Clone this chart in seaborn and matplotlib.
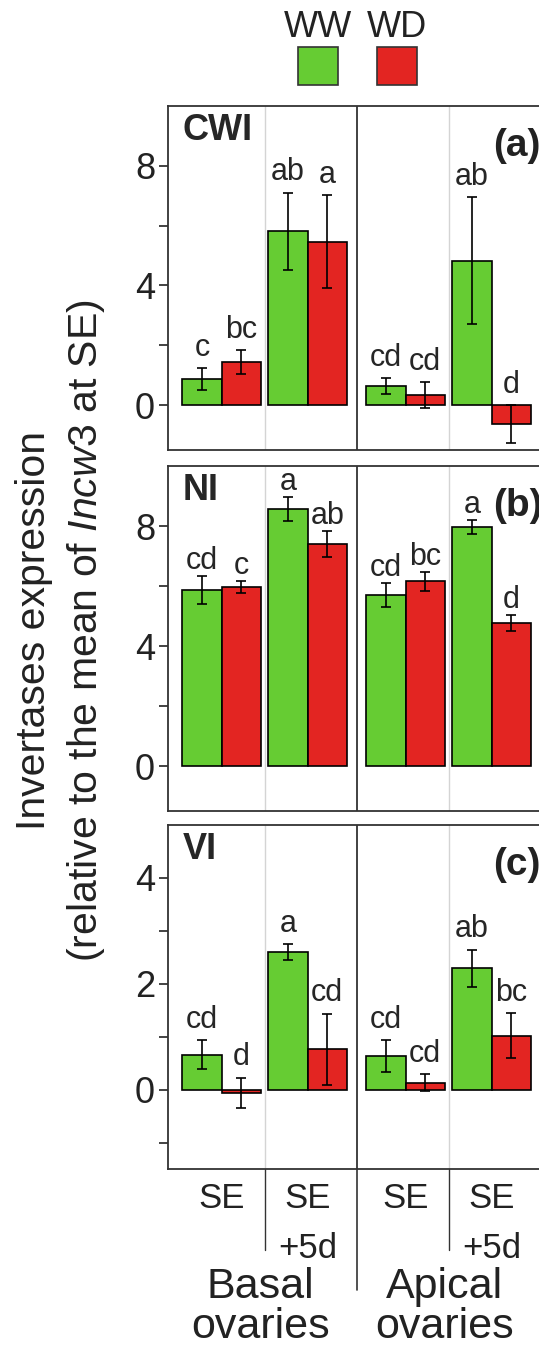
import numpy as np
import pandas as pd
import matplotlib
matplotlib.use('Agg')
import matplotlib.pyplot as plt
from matplotlib.patches import Rectangle
import seaborn as sns

# values (mean and SE)
# group order: Basal SE, Basal SE+5d, Apical SE, Apical SE+5d
treatments = ['WW', 'WD']
group_pos = [0, 1, 2.14, 3.14]   # apical groups sit a bit further right

cwi_ww = [0.87, 5.81, 0.63, 4.83]
cwi_wd = [1.44, 5.47, 0.33, -0.64]
cwi_ww_se = [0.36, 1.29, 0.27, 2.12]
cwi_wd_se = [0.39, 1.55, 0.43, 0.64]
cwi_ww_let = ['c', 'ab', 'cd', 'ab']
cwi_wd_let = ['bc', 'a', 'cd', 'd']

ni_ww = [5.88, 8.56, 5.71, 7.97]
ni_wd = [5.98, 7.39, 6.16, 4.77]
ni_ww_se = [0.47, 0.40, 0.40, 0.22]
ni_wd_se = [0.20, 0.43, 0.32, 0.27]
ni_ww_let = ['cd', 'a', 'cd', 'a']
ni_wd_let = ['c', 'ab', 'bc', 'd']

vi_ww = [0.66, 2.60, 0.63, 2.29]
vi_wd = [-0.06, 0.76, 0.13, 1.02]
vi_ww_se = [0.27, 0.15, 0.30, 0.35]
vi_wd_se = [0.28, 0.67, 0.16, 0.42]
vi_ww_let = ['cd', 'a', 'cd', 'ab']
vi_wd_let = ['d', 'cd', 'cd', 'bc']

stage_labels = [['SE'], ['SE', '+5d'], ['SE'], ['SE', '+5d']]
ovary_labels = [['Basal', 'ovaries'], ['Apical', 'ovaries']]

colors = {'WW': '#66CC33', 'WD': '#E32522'}

sns.set_style('ticks')
plt.rcParams['font.family'] = ['Liberation Sans', 'DejaVu Sans']
plt.rcParams['mathtext.fontset'] = 'custom'
plt.rcParams['mathtext.rm'] = 'Liberation Sans'
plt.rcParams['mathtext.it'] = 'Liberation Sans:italic'

fig = plt.figure(figsize=(5.39, 13.51), dpi=100)

W, H = 539, 1351
left_px, width_px = 168.3, 375.7


def panel(top_px, bot_px):
    return fig.add_axes([left_px / W, 1 - bot_px / H, width_px / W, (bot_px - top_px) / H])


def draw_panel(ax, ww, wd, ww_se, wd_se, ww_let, wd_let, ylim, yticks, ylabels, name, tag, pad):
    df = pd.DataFrame({'pos': group_pos * 2,
                       'treatment': ['WW'] * 4 + ['WD'] * 4,
                       'value': ww + wd})
    sns.barplot(data=df, x='pos', y='value', hue='treatment', hue_order=treatments,
                palette=colors, saturation=1, native_scale=True, width=0.915, gap=0,
                edgecolor='black', linewidth=1.2, errorbar=None, legend=False,
                ax=ax, zorder=2)

    # bars sorted by x: group0 WW, group0 WD, group1 WW, ...
    bars = sorted(ax.patches, key=lambda b: b.get_x())
    xs = [b.get_x() + b.get_width() / 2 for b in bars]
    vals, ses, lets = [], [], []
    for i in range(4):
        vals += [ww[i], wd[i]]
        ses += [ww_se[i], wd_se[i]]
        lets += [ww_let[i], wd_let[i]]
    ax.errorbar(xs, vals, yerr=ses, fmt='none', ecolor='black', elinewidth=1.2,
                capsize=3.5, capthick=1.2, zorder=3)
    for x, v, s, l in zip(xs, vals, ses, lets):
        ax.annotate(l, (x, max(v + s, 0)), xytext=(0, pad), textcoords='offset points',
                    ha='center', va='baseline', fontsize=22)

    # group separators
    mids = [(group_pos[i] + group_pos[i + 1]) / 2 for i in range(3)]
    ax.axvline(mids[0], color='#d4d4d4', lw=1, zorder=0)
    ax.axvline(mids[1], color='#333333', lw=1.3, zorder=0)
    ax.axvline(mids[2], color='#d4d4d4', lw=1, zorder=0)

    ax.set_xlim(-0.62, 3.75)
    ax.set_ylim(*ylim)
    ax.set_yticks(yticks)
    ax.set_yticklabels(ylabels)
    ax.set_xticks([])
    ax.set_xlabel('')
    ax.set_ylabel('')
    ax.tick_params(axis='y', length=6.5, width=1.2, pad=3, labelsize=26, colors='#222222')
    for sp in ['left', 'top', 'bottom']:
        ax.spines[sp].set_color('#333333')
        ax.spines[sp].set_linewidth(1.3)
    ax.spines['right'].set_visible(False)

    ax.text(0.039, 0.93, name, transform=ax.transAxes, fontsize=26, fontweight='bold',
            ha='left', va='center')
    ax.text(0.865, 0.885, tag, transform=ax.transAxes, fontsize=28, fontweight='bold',
            ha='left', va='center', color='#222222')
    return mids


ax_a = panel(106, 450)
draw_panel(ax_a, cwi_ww, cwi_wd, cwi_ww_se, cwi_wd_se, cwi_ww_let, cwi_wd_let,
           (-1.5, 10), [0, 2, 4, 6, 8], ['0', '', '4', '', '8'], 'CWI', '(a)', 9)

ax_b = panel(466, 811)
draw_panel(ax_b, ni_ww, ni_wd, ni_ww_se, ni_wd_se, ni_ww_let, ni_wd_let,
           (-1.5, 10), [0, 2, 4, 6, 8], ['0', '', '4', '', '8'], 'NI', '(b)', 5)

ax_c = panel(825, 1169)
mids = draw_panel(ax_c, vi_ww, vi_wd, vi_ww_se, vi_wd_se, vi_ww_let, vi_wd_let,
                  (-1.5, 5), [-1, 0, 1, 2, 3, 4], ['', '0', '', '2', '', '4'], 'VI', '(c)', 9)

# category labels under the last panel
tr = ax_c.get_xaxis_transform()
line_y = [-0.113, -0.259]
for pos, lines in zip(group_pos, stage_labels):
    for y, t in zip(line_y, lines):
        ax_c.text(pos, y, t, transform=tr, ha='center', va='baseline', fontsize=25,
                  color='#222222', clip_on=False)
for pos, lines in zip([mids[0], mids[2]], ovary_labels):
    for y, t in zip([-0.375, -0.49], lines):
        ax_c.text(pos - 0.05, y, t, transform=tr, ha='center', va='baseline', fontsize=31,
                  color='#222222', clip_on=False)
ax_c.axvline(mids[0], ymin=-0.235, ymax=0, color='#333333', lw=1, clip_on=False)
ax_c.axvline(mids[2], ymin=-0.235, ymax=0, color='#333333', lw=1, clip_on=False)
ax_c.axvline(mids[1], ymin=-0.352, ymax=0, color='#333333', lw=1.2, clip_on=False)

# y axis label (two lines)
fig.text(45 / W, 0.533, 'Invertases expression', rotation=90, rotation_mode='anchor',
         ha='center', va='baseline', fontsize=29.5, color='#222222')
fig.text(97 / W, 0.533, '(relative to the mean of $\\mathit{Incw3}$ at SE)', rotation=90,
         rotation_mode='anchor', ha='center', va='baseline', fontsize=29.5,
         color='#222222')

# legend on top
for cx, t in zip([318, 397], treatments):
    fig.text(cx / W, 1 - 37 / H, t, ha='center', va='baseline', fontsize=26, color='#222222')
    fig.add_artist(Rectangle(((cx - 20) / W, 1 - 85 / H), 40 / W, 38 / H,
                             transform=fig.transFigure, facecolor=colors[t],
                             edgecolor='#333333', lw=1.2))

fig.savefig('out.png', dpi=100)
